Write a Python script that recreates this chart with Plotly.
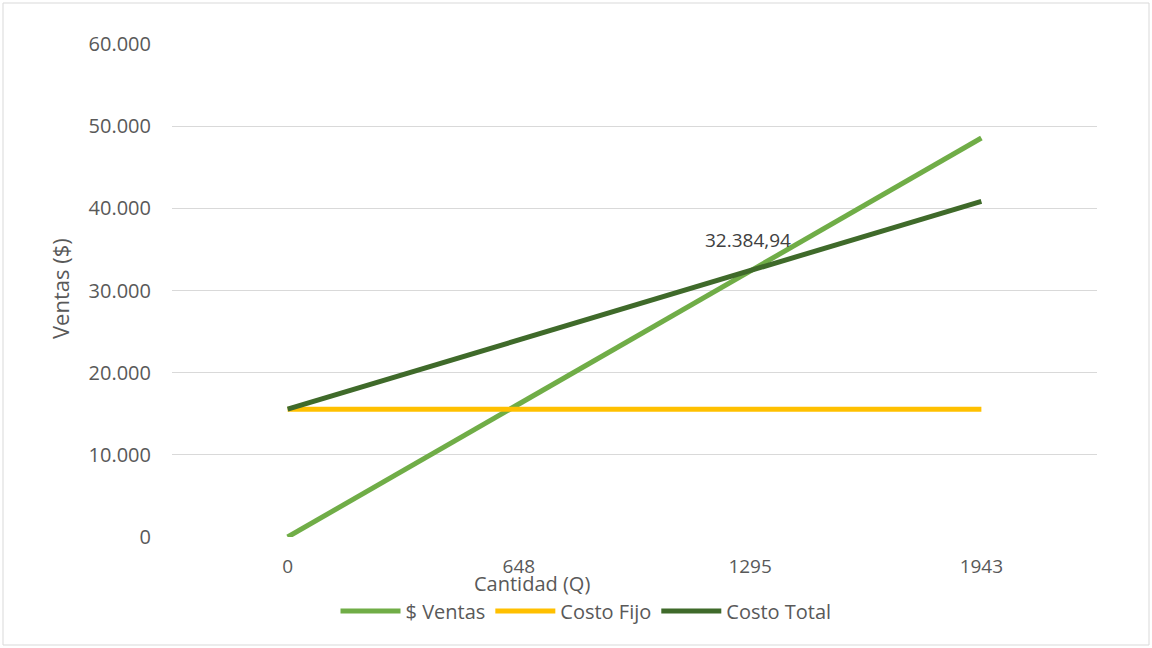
import plotly.graph_objects as go

# Break-even chart: sales vs fixed and total cost
cantidad = ["0", "648", "1295", "1943"]
ventas = [0, 16190, 32384.94, 48560]
costo_fijo = [15560, 15560, 15560, 15560]
costo_total = [15560, 23970, 32384.94, 40850]

# index of the break-even point (labelled)
idx_eq = 2


def es_num(v):
    s = f"{v:,.2f}"
    return s.replace(",", "X").replace(".", ",").replace("X", ".")


font_family = "Open Sans, Noto Sans, sans-serif"
txt_color = "#595959"

W, H = 1152, 648
L, R, T, B = 172, 55, 44, 111


def px_x(x):
    return (x - L) / (W - L - R)


def px_y(y):
    return (H - B - y) / (H - T - B)


fig = go.Figure()
fig.add_trace(go.Scatter(
    x=cantidad, y=ventas, name="$ Ventas", mode="lines",
    line=dict(color="#70AD47", width=5),
))
fig.add_trace(go.Scatter(
    x=cantidad, y=costo_fijo, name="Costo Fijo", mode="lines",
    line=dict(color="#FFC000", width=5),
))
fig.add_trace(go.Scatter(
    x=cantidad, y=costo_total, name="Costo Total", mode="lines",
    line=dict(color="#3F6A2A", width=5),
))

# break-even value label (category axis: position by index)
fig.add_annotation(
    x=idx_eq, y=costo_total[idx_eq], xref="x", yref="y",
    text=es_num(costo_total[idx_eq]), showarrow=False,
    xanchor="center", yanchor="middle",
    yshift=31, xshift=-2,
    font=dict(family=font_family, size=19, color="#404040"),
)

# axis titles
fig.add_annotation(
    x=px_x(532), y=px_y(583), xref="paper", yref="paper", text="Cantidad (Q)",
    xanchor="center", yanchor="middle",
    showarrow=False, font=dict(family=font_family, size=20, color=txt_color),
)
fig.add_annotation(
    x=px_x(60), y=px_y(289), xref="paper", yref="paper", text="Ventas ($)",
    xanchor="center", yanchor="middle", showarrow=False, textangle=-90,
    font=dict(family=font_family, size=22, color=txt_color),
)

# outer chart border
fig.add_shape(type="rect", xref="paper", yref="paper",
              x0=px_x(3), x1=px_x(1149), y0=px_y(645), y1=px_y(3),
              line=dict(color="#D9D9D9", width=1))

fig.update_layout(
    width=W, height=H,
    margin=dict(l=L, r=R, t=T, b=B),
    paper_bgcolor="white", plot_bgcolor="white",
    separators=",.",
    showlegend=True,
    legend=dict(
        orientation="h", x=px_x(586), xanchor="center", y=px_y(611), yanchor="middle",
        font=dict(family=font_family, size=20, color=txt_color),
        itemwidth=60, tracegroupgap=0,
    ),
    xaxis=dict(
        type="category", range=[-0.5, 3.5], showgrid=False, showline=False,
        zeroline=False, ticks="", ticklabelstandoff=16,
        tickfont=dict(family=font_family, size=19, color=txt_color),
    ),
    yaxis=dict(
        range=[0, 60000], dtick=10000, tickformat=",d",
        showgrid=True, gridcolor="#D9D9D9", gridwidth=1, zeroline=False,
        showline=False, ticks="", ticklabelstandoff=20,
        tickfont=dict(family=font_family, size=20, color=txt_color),
    ),
)

fig.write_html("out.html")
